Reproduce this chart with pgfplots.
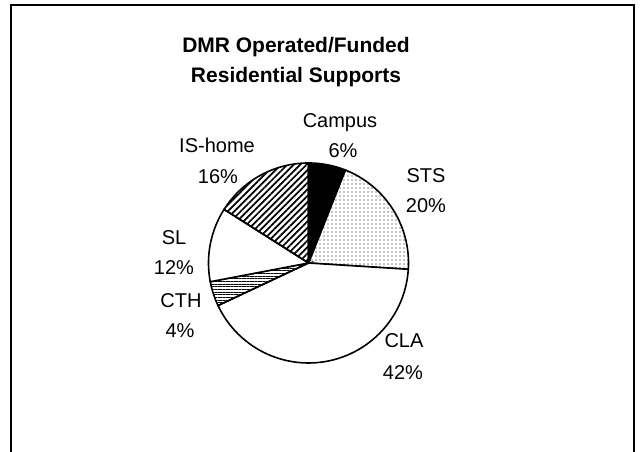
\documentclass[border=0pt]{standalone}
\usepackage{fontspec}
\setmainfont{Liberation Sans}
\usepackage{pgfplots}
\pgfplotsset{compat=1.18}
\usetikzlibrary{patterns.meta}

% centre and radius of the pie, in pixels of the 642x452 frame
\def\cx{308.5}
\def\cy{189}
\def\rr{100}

% one wedge: #1 share before it, #2 its share (percent), #3 style
\newcommand{\slice}[3]{%
  \addplot[#3, line width=1.2pt, domain={90-3.6*(#1+#2)}:{90-3.6*#1}, samples=60, variable=\t]
    ({\cx+\rr*cos(\t)}, {\cy+\rr*sin(\t)}) -- (axis cs:\cx,\cy) -- cycle;
}

\begin{document}
\begin{tikzpicture}
\begin{axis}[
    x=0.75pt, y=0.75pt,
    xmin=0, xmax=642, ymin=0, ymax=452,
    hide axis,
    clip=true,
]
\path (rel axis cs:0,0) rectangle (rel axis cs:1,1);

% Campus 6, STS 20, CLA 42, CTH 4, SL 12, IS-home 16
\slice{0}{6}{draw=black, fill=black}
\slice{6}{20}{draw=black, pattern={Dots[distance=3pt, radius=0.45pt]}}
\slice{26}{42}{draw=black, fill=white}
\slice{68}{4}{draw=black, pattern={Lines[angle=0, distance=2pt, line width=0.5pt]}}
\slice{72}{12}{draw=black, fill=white}
\slice{84}{16}{draw=black, pattern={Lines[angle=45, distance=3.4pt, line width=1.3pt]}}

% chart frame
\draw[line width=1.5pt] (axis cs:11,-20) -- (axis cs:11,447) -- (axis cs:634,447) -- (axis cs:634,-20);

% title
\node[anchor=base, font=\bfseries\fontsize{15.75}{18}\selectfont] at (axis cs:296,399) {DMR Operated/Funded};
\node[anchor=base, font=\bfseries\fontsize{15.75}{18}\selectfont] at (axis cs:296,369) {Residential Supports};

% labels
\tikzset{lab/.style={anchor=base, font=\fontsize{15}{18}\selectfont, inner sep=0pt}}
\node[lab] at (axis cs:340,324) {Campus};
\node[lab] at (axis cs:343,294) {6\%};
\node[lab] at (axis cs:426,269) {STS};
\node[lab] at (axis cs:426,239) {20\%};
\node[lab] at (axis cs:404,104) {CLA};
\node[lab] at (axis cs:403,72) {42\%};
\node[lab] at (axis cs:181,144) {CTH};
\node[lab] at (axis cs:180,114) {4\%};
\node[lab] at (axis cs:174,207) {SL};
\node[lab] at (axis cs:174,177) {12\%};
\node[lab] at (axis cs:217,299) {IS-home};
\node[lab] at (axis cs:218,268) {16\%};
\end{axis}
\end{tikzpicture}
\end{document}
